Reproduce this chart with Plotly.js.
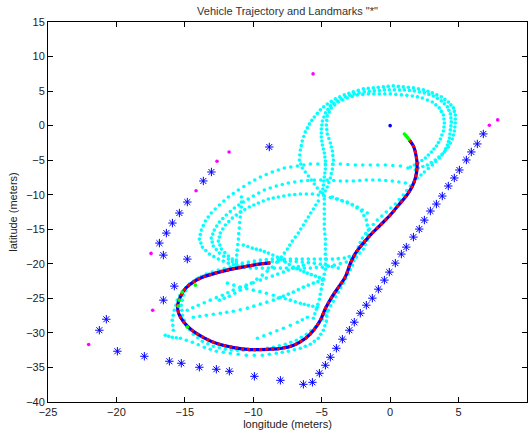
<!DOCTYPE html>
<html><head><meta charset="utf-8">
<script src="https://cdn.plot.ly/plotly-3.0.1.min.js"></script>
<style>html,body{margin:0;padding:0;background:#fff}#c{width:532px;height:432px}</style>
</head><body><div id="c"></div>
<script>
// ---- cyan trajectory history (laps), [longitude, latitude] pairs ----
const topLap1 = [[-5.10,-9.61],[-5.54,-8.45],[-5.97,-7.29],[-6.42,-6.13],[-6.63,-4.97],[-6.56,-3.52],[-6.42,-2.22],[-6.20,-0.91],[-5.90,0.25],[-5.54,1.26],[-5.10,2.28],[-4.59,3.14],[-4.00,3.87],[-3.35,4.45],[-2.69,4.88],[-1.96,5.32],[-1.23,5.46],[-0.50,5.61],[0.23,5.75],[0.96,5.61],[1.70,5.46],[2.43,5.17],[3.08,4.74],[3.74,4.16],[4.25,3.43],[4.62,2.57],[4.76,1.55],[4.76,0.39],[4.69,-0.77],[4.54,-1.93],[4.25,-3.09],[3.81,-4.10],[3.30,-4.97],[2.72,-5.70],[2.06,-6.13],
  [-5.32,-9.03],[-5.76,-7.87],[-6.20,-6.71],[-6.53,-5.55],[-6.60,-4.25],[-6.49,-2.87],[-6.31,-1.57],[-6.05,-0.33],[-5.72,0.76],[-5.32,1.77],[-4.85,2.71],[-4.30,3.51],[-3.68,4.16],[-3.02,4.67],[-2.33,5.10],[-1.60,5.39],[-0.87,5.54],[-0.14,5.68],[0.60,5.68],[1.33,5.54],[2.07,5.32],[2.76,4.96],[3.41,4.45],[4.00,3.80],[4.44,3.00],[4.69,2.06],[4.76,0.97],[4.73,-0.19],[4.62,-1.35],[4.40,-2.51],[4.03,-3.60],[3.56,-4.54],[3.01,-5.34],[2.39,-5.92]];
const topLap2 = [[-4.95,-9.75],[-4.88,-8.59],[-4.81,-7.43],[-4.73,-6.28],[-4.73,-5.12],[-4.81,-3.96],[-4.95,-2.80],[-5.03,-1.64],[-5.03,-0.48],[-4.95,0.68],[-4.73,1.84],[-4.37,2.86],[-3.86,3.58],[-3.27,4.16],[-2.62,4.59],[-1.89,4.88],[-1.15,5.03],[-0.42,5.17],[0.31,5.17],[1.04,5.17],[1.77,5.03],[2.50,4.74],[3.16,4.30],[3.74,3.58],[4.18,2.71],[4.40,1.70],[4.47,0.54],[4.40,-0.62],[4.33,-1.78],[4.18,-2.80],[3.96,-3.81],[3.60,-4.68],[3.08,-5.70],[2.50,-6.71],[1.99,-7.58],[1.48,-8.74],[0.96,-10.04],[0.38,-11.35],[-0.28,-12.51],[-0.94,-13.67],[-1.52,-14.97],[-2.03,-16.28],[-2.32,-17.58],[-2.54,-18.89],[-2.76,-20.19],[-3.06,-21.49],[-3.42,-22.80],[-3.79,-24.10],[-4.15,-25.41],[-4.52,-26.71],[-4.95,-28.02],[-5.46,-29.17],[-6.12,-30.19],[-6.85,-31.06],[-7.66,-31.64],[-8.53,-32.07],[-9.41,-32.36],[-10.29,-32.51],[-11.17,-32.51],[-12.04,-32.36],[-12.92,-31.93],[-13.72,-31.20],[-14.38,-30.19],[-14.89,-28.88],[-15.18,-27.44],[-15.26,-25.99],[-15.11,-24.54],[-14.75,-23.23],[-14.16,-22.22],[-13.43,-21.49],[-12.55,-20.91],[-11.68,-20.48],[-10.80,-20.19],[-9.92,-19.90],[-9.04,-19.75],[-8.17,-19.61],[-7.29,-19.61],[-6.42,-19.75],[-5.54,-19.90],[-4.66,-20.19],[-3.79,-20.62],
  [-4.92,-9.17],[-4.85,-8.01],[-4.77,-6.86],[-4.73,-5.70],[-4.77,-4.54],[-4.88,-3.38],[-4.99,-2.22],[-5.03,-1.06],[-4.99,0.10],[-4.84,1.26],[-4.55,2.35],[-4.12,3.22],[-3.57,3.87],[-2.95,4.38],[-2.26,4.74],[-1.52,4.96],[-0.79,5.10],[-0.06,5.17],[0.68,5.17],[1.41,5.10],[2.14,4.89],[2.83,4.52],[3.45,3.94],[3.96,3.15],[4.29,2.21],[4.44,1.12],[4.44,-0.04],[4.37,-1.20],[4.26,-2.29],[4.07,-3.31],[3.78,-4.25],[3.34,-5.19],[2.79,-6.21],[2.25,-7.15],[1.74,-8.16],[1.22,-9.39],[0.67,-10.70],[0.05,-11.93],[-0.61,-13.09],[-1.23,-14.32],[-1.78,-15.63],[-2.18,-16.93],[-2.43,-18.24],[-2.65,-19.54],[-2.91,-20.84],[-3.24,-22.15],[-3.61,-23.45],[-3.97,-24.76],[-4.34,-26.06],[-4.74,-27.37],[-5.21,-28.60],[-5.79,-29.68],[-6.49,-30.63],[-7.26,-31.35],[-8.10,-31.86],[-8.97,-32.22],[-9.85,-32.44],[-10.73,-32.51],[-11.61,-32.44],[-12.48,-32.15],[-13.32,-31.57],[-14.05,-30.70],[-14.64,-29.54],[-15.04,-28.16],[-15.22,-26.72],[-15.19,-25.27],[-14.93,-23.89],[-14.46,-22.73],[-13.80,-21.86],[-12.99,-21.20],[-12.12,-20.70],[-11.24,-20.34],[-10.36,-20.05],[-9.48,-19.83],[-8.61,-19.68],[-7.73,-19.61],[-6.86,-19.68],[-5.98,-19.83],[-5.10,-20.05],[-4.23,-20.41]];
const topLap3 = [[-4.88,-10.04],[-4.59,-8.88],[-4.37,-7.58],[-4.22,-6.28],[-4.15,-4.97],[-4.22,-3.67],[-4.37,-2.51],[-4.59,-1.20],[-4.66,0.10],[-4.59,1.41],[-4.30,2.57],[-3.79,3.43],[-3.13,4.01],[-2.40,4.45],[-1.59,4.59],[-0.79,4.59],[0.01,4.59],[0.82,4.45],[1.62,4.30],[2.35,4.01],[3.08,3.43],[3.59,2.57],[3.89,1.55],[3.96,0.39],[3.89,-0.77],[3.67,-1.93],[3.38,-2.94],[3.01,-3.81],[2.57,-4.68],[2.06,-5.41],[1.48,-5.99],
  [-4.74,-9.46],[-4.48,-8.23],[-4.30,-6.93],[-4.19,-5.63],[-4.19,-4.32],[-4.30,-3.09],[-4.48,-1.86],[-4.63,-0.55],[-4.63,0.76],[-4.45,1.99],[-4.05,3.00],[-3.46,3.72],[-2.77,4.23],[-2.00,4.52],[-1.19,4.59],[-0.39,4.59],[0.42,4.52],[1.22,4.38],[1.99,4.16],[2.72,3.72],[3.34,3.00],[3.74,2.06],[3.93,0.97],[3.93,-0.19],[3.78,-1.35],[3.53,-2.44],[3.20,-3.38],[2.79,-4.25],[2.32,-5.05],[1.77,-5.70]];
const ringOuter = [[1.84,-6.42],[0.75,-5.84],[-0.35,-5.70],[-1.45,-5.70],[-2.54,-5.70],[-3.64,-5.55],[-4.73,-5.55],[-5.83,-5.55],[-6.78,-5.84],[-7.73,-6.13],[-8.61,-6.71],[-9.48,-7.43],[-10.29,-8.30],[-11.09,-9.32],[-11.82,-10.33],[-12.48,-11.49],[-13.07,-12.65],[-13.50,-13.81],[-13.80,-15.12],[-13.94,-16.42],[-13.72,-17.58],[-13.21,-18.59],[-12.55,-19.32],[-11.82,-19.90],[-11.09,-20.33],[-10.21,-20.62],[-9.34,-20.62],[-8.46,-20.62],[-7.58,-20.62],[-6.71,-20.62],[-5.83,-20.62],[-4.95,-20.48],[-4.08,-20.19],[-3.20,-19.75],[-2.47,-19.03],[-1.96,-17.87],[-1.67,-16.57],[-1.59,-15.12],[-1.74,-13.67],[-2.10,-12.36],[-2.76,-11.49],[-3.49,-10.91],[-4.22,-10.33],
  [1.30,-6.13],[0.20,-5.77],[-0.90,-5.70],[-2.00,-5.70],[-3.09,-5.63],[-4.19,-5.55],[-5.28,-5.55],[-6.31,-5.70],[-7.26,-5.99],[-8.17,-6.42],[-9.05,-7.07],[-9.89,-7.87],[-10.69,-8.81],[-11.46,-9.83],[-12.15,-10.91],[-12.78,-12.07],[-13.29,-13.23],[-13.65,-14.47],[-13.87,-15.77],[-13.83,-17.00],[-13.47,-18.09],[-12.88,-18.96],[-12.19,-19.61],[-11.46,-20.12],[-10.65,-20.48],[-9.78,-20.62],[-8.90,-20.62],[-8.02,-20.62],[-7.15,-20.62],[-6.27,-20.62],[-5.39,-20.55],[-4.52,-20.34],[-3.64,-19.97],[-2.84,-19.39],[-2.22,-18.45],[-1.82,-17.22],[-1.63,-15.85],[-1.67,-14.40],[-1.92,-13.02],[-2.43,-11.93],[-3.13,-11.20],[-3.86,-10.62]];
const ringMid = [[1.11,-8.30],[0.16,-8.01],[-0.79,-7.87],[-1.74,-7.87],[-2.69,-8.01],[-3.64,-8.01],[-4.59,-7.87],[-5.54,-7.87],[-6.49,-8.01],[-7.44,-8.30],[-8.32,-8.74],[-9.19,-9.32],[-10.00,-10.19],[-10.73,-11.06],[-11.38,-11.93],[-11.97,-12.94],[-12.48,-13.96],[-12.85,-15.12],[-13.07,-16.28],[-12.92,-17.43],[-12.48,-18.45],[-11.82,-19.32],[-11.24,-20.04],[-10.36,-19.75],[-9.48,-19.46],[-8.61,-19.32],[-7.73,-19.32],[-6.85,-19.32],[-5.98,-19.32],[-5.10,-19.32],[-4.22,-19.32],[-3.35,-19.17],[-2.62,-18.74],
  [0.64,-8.16],[-0.32,-7.94],[-1.27,-7.87],[-2.22,-7.94],[-3.17,-8.01],[-4.12,-7.94],[-5.07,-7.87],[-6.02,-7.94],[-6.97,-8.16],[-7.88,-8.52],[-8.76,-9.03],[-9.60,-9.76],[-10.37,-10.63],[-11.06,-11.50],[-11.68,-12.44],[-12.23,-13.45],[-12.67,-14.54],[-12.96,-15.70],[-13.00,-16.86],[-12.70,-17.94],[-12.15,-18.89],[-11.53,-19.68],[-10.80,-19.90],[-9.92,-19.61],[-9.05,-19.39],[-8.17,-19.32],[-7.29,-19.32],[-6.42,-19.32],[-5.54,-19.32],[-4.66,-19.32],[-3.79,-19.25],[-2.99,-18.96]];
const ringInner = [[-1.67,-12.65],[-2.40,-11.78],[-3.13,-11.06],[-3.93,-10.62],[-4.81,-10.19],[-5.68,-9.90],[-6.56,-9.90],[-7.37,-10.04],[-8.17,-10.33],[-8.90,-10.62],[-9.63,-11.20],[-10.29,-11.78],[-10.95,-12.51],[-11.53,-13.38],[-12.04,-14.39],[-12.41,-15.55],[-12.55,-16.71],[-12.33,-17.87],[-11.82,-18.88],[-11.24,-19.75],
  [-2.04,-12.22],[-2.77,-11.42],[-3.53,-10.84],[-4.37,-10.41],[-5.25,-10.05],[-6.12,-9.90],[-6.97,-9.97],[-7.77,-10.19],[-8.54,-10.48],[-9.27,-10.91],[-9.96,-11.49],[-10.62,-12.15],[-11.24,-12.95],[-11.79,-13.89],[-12.23,-14.97],[-12.48,-16.13],[-12.44,-17.29],[-12.08,-18.38],[-11.53,-19.32]];
const ringLow = [[-10.73,-17.29],[-10.07,-17.73],[-9.48,-18.02],[-8.90,-18.45],[-8.24,-19.03],[-7.66,-19.75],[-7.07,-20.48],[-6.56,-20.91],[-6.05,-21.35],[-5.46,-21.78],[-4.88,-22.22],
  [-10.40,-17.51],[-9.78,-17.88],[-9.19,-18.24],[-8.57,-18.74],[-7.95,-19.39],[-7.37,-20.12],[-6.82,-20.70],[-6.31,-21.13],[-5.76,-21.57],[-5.17,-22.00]];
const ringWest = [[-10.87,-10.33],[-10.87,-11.78],[-10.95,-13.23],[-11.02,-14.83],[-11.09,-16.42],[-11.17,-18.02],[-11.24,-19.46],
  [-10.87,-11.06],[-10.91,-12.51],[-10.99,-14.03],[-11.06,-15.63],[-11.13,-17.22],[-11.21,-18.74]];
const centerLine = [[-4.81,-10.62],[-4.81,-12.07],[-4.81,-13.52],[-4.81,-14.97],[-4.73,-16.42],[-4.73,-17.87],[-4.73,-19.32],[-4.73,-20.77],[-4.88,-22.22],[-5.03,-23.67],[-5.17,-25.12],[-5.39,-26.57],[-5.61,-27.87],
  [-4.81,-11.35],[-4.81,-12.80],[-4.81,-14.25],[-4.77,-15.70],[-4.73,-17.15],[-4.73,-18.60],[-4.73,-20.05],[-4.81,-21.50],[-4.96,-22.95],[-5.10,-24.40],[-5.28,-25.85],[-5.50,-27.22]];
const diagLine = [[-5.25,-10.91],[-5.61,-12.07],[-5.98,-13.23],[-6.34,-14.39],[-6.71,-15.55],[-7.15,-16.71],[-7.51,-17.87],[-7.95,-19.03],[-8.61,-20.48],[-9.34,-21.64],[-10.14,-22.80],[-10.95,-23.81],[-11.75,-24.68],[-12.48,-25.26],
  [-5.43,-11.49],[-5.80,-12.65],[-6.16,-13.81],[-6.53,-14.97],[-6.93,-16.13],[-7.33,-17.29],[-7.73,-18.45],[-8.28,-19.76],[-8.98,-21.06],[-9.74,-22.22],[-10.55,-23.31],[-11.35,-24.25],[-12.12,-24.97]];
const lowA = [[-14.82,-26.71],[-14.02,-25.99],[-13.14,-25.26],[-12.26,-24.54],[-11.46,-23.81],[-10.51,-23.09],[-9.48,-22.36],[-8.61,-21.78],[-7.80,-21.20],[-7.07,-20.62],[-6.34,-20.19],
  [-14.42,-26.35],[-13.58,-25.63],[-12.70,-24.90],[-11.86,-24.18],[-10.99,-23.45],[-10.00,-22.73],[-9.05,-22.07],[-8.21,-21.49],[-7.44,-20.91],[-6.71,-20.41]];
const lowB = [[-14.38,-27.73],[-13.43,-27.44],[-12.41,-27.15],[-11.46,-26.86],[-10.43,-26.42],[-9.48,-25.84],[-8.53,-25.26],[-7.80,-24.68],[-7.07,-24.10],[-6.34,-23.38],[-5.61,-22.80],[-4.95,-22.36],
  [-13.91,-27.59],[-12.92,-27.30],[-11.94,-27.01],[-10.95,-26.64],[-9.96,-26.13],[-9.01,-25.55],[-8.17,-24.97],[-7.44,-24.39],[-6.71,-23.74],[-5.98,-23.09],[-5.28,-22.58]];
const lowC = [[-11.89,-22.80],[-10.95,-23.38],[-10.00,-23.81],[-9.04,-24.25],[-8.02,-24.83],[-7.29,-25.26],[-6.56,-25.70],[-5.98,-25.99],[-5.32,-26.28],
  [-11.42,-23.09],[-10.48,-23.60],[-9.52,-24.03],[-8.53,-24.54],[-7.66,-25.05],[-6.93,-25.48],[-6.27,-25.85],[-5.65,-26.14]];
const lowOuter = [[-16.43,-30.33],[-15.92,-30.62],[-15.33,-30.77],[-14.45,-31.35],[-13.58,-32.07],[-12.70,-32.65],[-11.68,-32.94],[-10.51,-33.23],[-9.34,-33.23],[-8.32,-32.94],[-7.44,-32.65],[-6.56,-32.22],[-5.83,-31.64],[-5.25,-30.77],[-4.88,-29.61],[-4.66,-28.30],[-4.59,-26.86],
  [-16.18,-30.48],[-15.63,-30.70],[-14.89,-31.06],[-14.02,-31.71],[-13.14,-32.36],[-12.19,-32.80],[-11.10,-33.09],[-9.93,-33.23],[-8.83,-33.09],[-7.88,-32.80],[-7.00,-32.44],[-6.20,-31.93],[-5.54,-31.21],[-5.07,-30.19],[-4.77,-28.96],[-4.63,-27.58]];
const lowWest = [[-15.84,-29.61],[-15.92,-28.16],[-15.77,-26.71],[-15.55,-25.26],[-15.18,-23.96],[-14.67,-22.94],[-14.02,-22.07],[-13.21,-21.49],[-12.33,-21.06],[-11.46,-20.62],
  [-15.88,-28.89],[-15.85,-27.44],[-15.66,-25.99],[-15.37,-24.61],[-14.93,-23.45],[-14.35,-22.51],[-13.62,-21.78],[-12.77,-21.28],[-11.90,-20.84]];
const lowInner = [[-9.70,-30.77],[-8.75,-30.04],[-7.80,-29.32],[-6.78,-28.45],[-6.05,-27.73],
  [-9.23,-30.41],[-8.28,-29.68],[-7.29,-28.89],[-6.42,-28.09]];

// ---- landmarks (blue asterisks) ----
const landmarkX = [-8.83,-13.06,-13.65,-14.82,-15.40,-15.91,-16.35,-16.86,-16.57,-14.82,-15.77,-16.57,-20.74,-21.25,-19.93,-17.96,-16.13,-15.26,-13.94,-12.70,-11.75,-9.92,-8.02,-6.34,-5.68,-5.17,-4.73,-4.37,-3.93,-3.49,-2.98,-2.62,-2.18,-1.74,-1.30,-0.86,-0.42,-0.06,0.38,0.82,1.18,1.70,2.13,2.50,2.94,3.38,3.81,4.25,4.69,5.06,5.57,5.93,6.37,6.81];
const landmarkY = [-3.09,-6.71,-8.01,-11.06,-12.65,-14.10,-15.55,-17.00,-18.74,-19.32,-23.23,-25.26,-28.02,-29.61,-32.65,-33.38,-34.10,-34.39,-34.97,-35.26,-35.55,-36.28,-36.86,-37.44,-37.15,-35.84,-34.68,-33.52,-32.22,-30.91,-29.61,-28.45,-27.15,-25.99,-24.97,-23.67,-22.36,-21.20,-19.90,-18.59,-17.58,-16.13,-14.97,-13.67,-12.36,-11.35,-10.19,-8.74,-7.58,-6.42,-4.97,-3.81,-2.65,-1.20];

// ---- magenta points ----
const magX = [-5.63,7.25,7.86,-11.77,-12.65,-14.18,-17.47,-17.35,-22.03];
const magY = [7.49,0.06,0.83,-3.81,-5.16,-9.42,-18.49,-26.71,-31.68];

// ---- current path (blue true / red estimate) ----
const pathX = [1.40,1.72,1.91,1.97,1.84,1.60,1.23,0.62,0.01,-0.72,-1.45,-2.18,-2.54,-2.91,-3.27,-3.76,-4.25,-4.73,-5.10,-5.59,-6.20,-7.05,-8.02,-8.75,-10.22,-11.44,-12.65,-13.63,-14.48,-15.09,-15.45,-15.53,-15.33,-14.96,-14.36,-13.63,-12.65,-11.68,-10.70,-9.73,-8.75];
const pathY = [-2.07,-3.04,-4.49,-5.94,-7.62,-8.84,-10.04,-11.49,-12.94,-14.39,-15.84,-17.54,-18.49,-19.94,-21.88,-23.33,-24.78,-26.46,-28.16,-29.61,-30.81,-31.78,-32.26,-32.36,-32.41,-32.12,-31.54,-30.67,-29.61,-28.41,-27.19,-25.99,-24.78,-23.57,-22.61,-21.88,-21.30,-20.81,-20.44,-20.09,-19.86];

// ---- green points ----
const greenX = [1.04,1.15,1.26,1.36,-14.23,-15.18,-15.40,-15.48,-14.82];
const greenY = [-1.20,-1.45,-1.70,-1.95,-23.09,-24.10,-25.26,-26.13,-29.17];

// ---- origin marker ----
const originX = [0];
const originY = [0];

const cyanLanes = [topLap1, topLap2, topLap3, ringOuter, ringMid, ringInner, ringLow, ringWest, centerLine, diagLine, lowA, lowB, lowC, lowOuter, lowWest, lowInner];
const cyanPts = [].concat(...cyanLanes);

const traces = [
  {x: cyanPts.map(p=>p[0]), y: cyanPts.map(p=>p[1]), mode:'markers', type:'scatter',
   marker:{color:'#00ffff', size:3.6}, hoverinfo:'skip'},
  {x: landmarkX, y: landmarkY, mode:'markers', type:'scatter',
   marker:{symbol:'asterisk-open', size:7, color:'#0000ff', line:{color:'#0000ff', width:1}}},
  {x: magX, y: magY, mode:'markers', type:'scatter', marker:{color:'#ff00ff', size:3.6}},
  {x: pathX, y: pathY, mode:'lines', type:'scatter', line:{color:'#0000ff', width:3.2, shape:'spline'}},
  {x: pathX, y: pathY, mode:'lines', type:'scatter', line:{color:'#ff0000', width:3, dash:'dot', shape:'spline'}},
  {x: greenX, y: greenY, mode:'markers', type:'scatter', marker:{color:'#00ff00', size:3.6}},
  {x: originX, y: originY, mode:'markers', type:'scatter', marker:{color:'#0000ff', size:3.6}}
];

const axisBase = {
  showgrid:false, zeroline:false, showline:true, mirror:'ticks', linecolor:'#000', linewidth:1,
  ticks:'inside', ticklen:5, tickcolor:'#000', tickwidth:1,
  tickfont:{family:'Liberation Sans, Arial, sans-serif', size:11, color:'#222'}, dtick:5
};

const layout = {
  width:532, height:432,
  margin:{l:48, r:5, t:22, b:30},
  paper_bgcolor:'#fff', plot_bgcolor:'#fff',
  showlegend:false,
  title:{text:'Vehicle Trajectory and Landmarks "*"', x:0.5, xref:'paper', y:0.975, yref:'container', yanchor:'middle',
         font:{family:'Liberation Sans, Arial, sans-serif', size:11, color:'#333'}},
  xaxis: Object.assign({}, axisBase, {range:[-25,10], tick0:-25,
    title:{text:'longitude (meters)', standoff:2, font:{family:'Liberation Sans, Arial, sans-serif', size:11, color:'#222'}}}),
  yaxis: Object.assign({}, axisBase, {range:[-40,15], tick0:-40,
    title:{text:'latitude (meters)', standoff:6, font:{family:'Liberation Sans, Arial, sans-serif', size:11, color:'#222'}}})
};

Plotly.newPlot('c', traces, layout, {displayModeBar:false, staticPlot:true});
</script></body></html>
